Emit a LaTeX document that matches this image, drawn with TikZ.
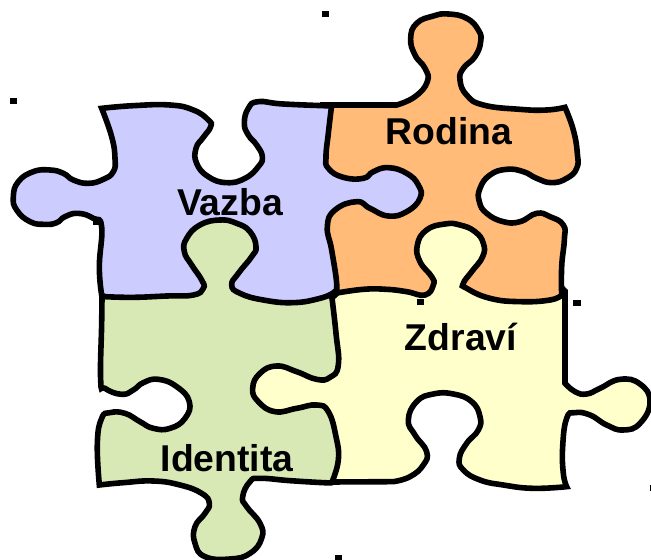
\documentclass[tikz,border=0pt]{standalone}
\usepackage{fontspec}
\setmainfont{Liberation Sans}
\definecolor{cblue}{HTML}{CCCCFF}
\definecolor{corange}{HTML}{FFBB77}
\definecolor{cgreen}{HTML}{D9E9B6}
\definecolor{cyellow}{HTML}{FFFFCC}
\tikzset{
 piece/.style={draw=black,line width=4.2pt,miter limit=3},
 zoomed/.style={x=.25pt,y=-.25pt},
 label/.style={font=\fontsize{28pt}{30pt}\selectfont\bfseries,text=black,anchor=base,inner sep=0pt},
 speck/.style={fill=black,draw=none}
}
\begin{document}
\begin{tikzpicture}[x=.75pt,y=-.75pt]
\useasboundingbox (0,0) rectangle (651,560);
% Zdravi
\begin{scope}[shift={(250,280)},zoomed]
\draw[piece,fill=cyellow] (945,33) -- (945,310)
 -- plot[smooth,tension=.8] coordinates {(945,310) (975,335) (1010,342) (1050,325) (1110,298) (1170,312) (1200,365) (1170,430) (1120,450) (1070,435) (1020,405) (975,398) (950,415) (938,500) (940,580) (950,620)}
 -- plot[smooth,tension=.8] coordinates {(950,620) (850,625) (760,615) (690,600) (640,570) (628,535) (650,490) (685,450) (690,410) (665,365) (610,342) (550,342) (500,365) (475,420) (495,465) (530,515) (520,555) (480,590) (430,605)}
 -- (240,606) -- (-15,420) -- (-15,246) -- (249,51) -- (501,-186) -- (711,-186) -- cycle;
\end{scope}
% Identita
\begin{scope}[shift={(90,290)},zoomed]
\draw[piece,fill=cgreen] (36,18)
 -- plot[smooth,tension=.8] coordinates {(36,18) (35,100) (32,270) (45,295) (95,313) (130,300) (160,278) (205,268) (260,290) (298,335) (285,385) (240,415) (190,415) (150,395) (105,370) (60,368) (35,385) (22,460) (28,585)}
 -- plot[smooth,tension=.8] coordinates {(28,585) (100,578) (190,573) (270,585) (335,610) (358,640) (345,670) (315,710) (315,760) (345,800) (420,807) (480,790) (515,745) (510,700) (470,650) (458,620) (480,575) (510,565) (600,572) (700,578) (725,578)}
 -- plot[smooth,tension=.8] coordinates {(725,578) (745,510) (738,440) (715,365) (680,345) (620,355) (555,365) (505,335) (488,295) (510,250) (560,228) (620,245) (680,268) (720,262) (745,225) (738,130) (726,24)}
 -- (525,-240) -- (264,-240) -- cycle;
\end{scope}
% Vazba
\begin{scope}[shift={(0,80)},zoomed]
\fill[speck] (280,424) rectangle (298,436);
\draw[piece,fill=cblue] (305,85)
 -- plot[smooth,tension=.8] coordinates {(305,85) (400,77) (510,75) (580,90) (625,120) (632,140) (610,172) (588,205) (590,250) (625,290) (680,308) (735,295) (775,260) (787,230) (770,195) (745,165) (733,130) (745,85) (775,65) (850,72) (999,78)}
 -- (1275,240) -- (1272,414) -- (999,639)
 -- plot[smooth,tension=.8] coordinates {(999,639) (960,655) (880,668) (790,660) (720,640) (695,615) (715,580) (755,530) (768,500) (750,455) (710,430) (660,420) (600,435) (560,475) (553,515) (575,555) (605,600) (610,625) (580,645) (500,648) (400,652) (315,650)}
 -- plot[smooth,tension=.8] coordinates {(305,645) (298,560) (305,440) (280,415) (235,400) (195,410) (170,428) (135,433) (90,425) (50,390) (40,350) (55,305) (100,275) (150,270) (190,280) (220,300) (265,310) (310,298) (340,275) (345,235) (335,170) (305,85)}
 -- cycle;
\end{scope}
% Rodina
\begin{scope}[shift={(320,0)},zoomed]
\draw[piece,fill=corange] (0,315) -- (35,315) -- (230,315)
 -- plot[smooth,tension=.8] coordinates {(230,315) (285,290) (322,245) (315,205) (285,165) (272,115) (290,70) (340,48) (385,42) (440,55) (475,90) (482,125) (465,170) (430,205) (420,240) (440,285) (490,315) (600,328) (680,330) (735,322)}
 -- plot[smooth,tension=.8] coordinates {(735,322) (760,390) (772,460) (770,505) (740,535) (695,548) (650,535) (610,515) (560,508) (510,525) (480,565) (478,605) (500,640) (550,665) (600,665) (650,640) (690,650) (730,675) (733,720) (725,800) (725,885)}
 -- plot[smooth,tension=.8] coordinates {(725,885) (690,900) (600,905) (510,895) (440,865) (430,850) (455,815) (488,770) (490,730) (465,695) (420,675) (375,672) (320,690) (292,735) (300,785) (335,830) (340,855) (315,885) (260,875) (200,868) (130,868) (45,880)}
 -- plot[smooth,tension=.8] coordinates {(45,880) (50,850) (35,750) (22,680) (45,630) (110,605) (150,625) (205,648) (260,635) (300,595) (295,555) (260,520) (205,503) (160,515) (130,535) (70,532) (25,505) (18,470) (25,400) (35,315)};
\end{scope}
% small marks
\fill[speck] (10,98) rectangle (17,104);
\fill[speck] (322,11) rectangle (329,17);
\fill[speck] (417,299) rectangle (424,305);
\fill[speck] (573,300) rectangle (581,306);
\fill[speck] (335,555) rectangle (342,560);
\fill[speck] (649.5,485) rectangle (651,491);
% labels
\node[label] (vazba) at (230,216) {Vazba};
\node[label] (rodina) at (449,145) {Rodina};
\node[label] (zdravi) at (461,350) {Zdraví};
\node[label] (identita) at (227,471) {Identita};
\end{tikzpicture}
\end{document}
